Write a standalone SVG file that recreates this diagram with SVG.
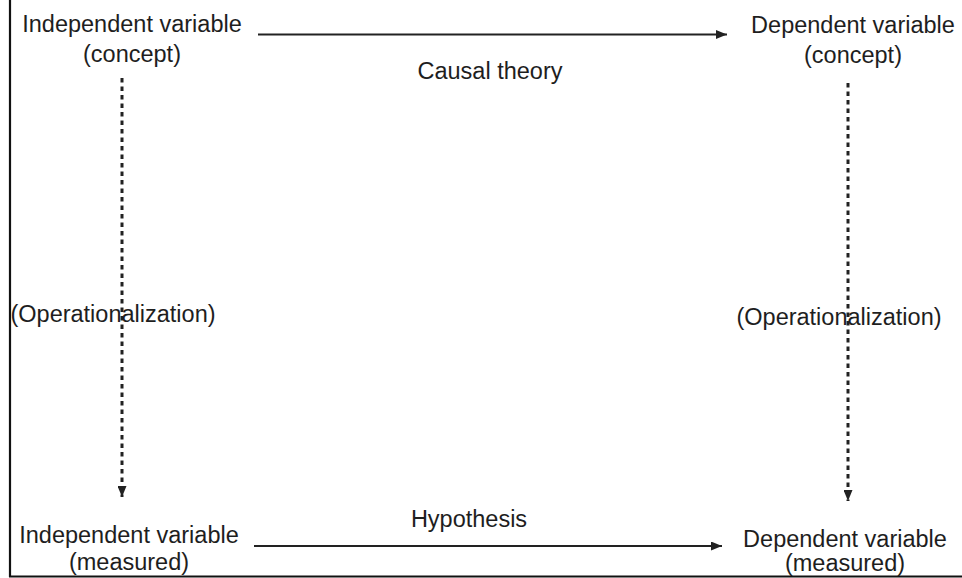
<svg xmlns="http://www.w3.org/2000/svg" width="962" height="578" viewBox="0 0 962 578">
<style>
text{font-family:"Liberation Sans",Arial,sans-serif;font-size:23.5px;fill:#1e1e1e;text-anchor:middle}
.solid{stroke:#222;stroke-width:1.8;fill:none}
.dash{stroke:#222;stroke-width:3;fill:none;stroke-dasharray:4.5 4}
</style>
<defs>
<marker id="ah" viewBox="0 0 11 9" refX="11" refY="4.5" markerWidth="11" markerHeight="9" markerUnits="userSpaceOnUse" orient="auto">
<path d="M0,0 L11,4.5 L0,9 Z" fill="#222"/>
</marker>
<marker id="ahd" viewBox="0 0 9 11" refX="4.5" refY="11" markerWidth="9" markerHeight="11" markerUnits="userSpaceOnUse" orient="0">
<path d="M0,0 L9,0 L4.5,11 Z" fill="#222"/>
</marker>
</defs>
<rect width="962" height="578" fill="#fff"/>
<g id="frame" stroke="#111" stroke-width="2.2" fill="none">
<line x1="10" y1="0" x2="10" y2="577"/>
<line x1="9" y1="576.5" x2="962" y2="576.5"/>
</g>
<g id="connectors">
<line class="solid" x1="258" y1="34.5" x2="727" y2="34.5" marker-end="url(#ah)"/>
<line class="solid" x1="254" y1="546" x2="722" y2="546" marker-end="url(#ah)"/>
<line class="dash" x1="122" y1="78" x2="122" y2="497" marker-end="url(#ahd)"/>
<line class="dash" x1="848" y1="83" x2="848" y2="501" marker-end="url(#ahd)"/>
<text x="490" y="79">Causal theory</text>
<text x="469" y="527">Hypothesis</text>
<text x="113" y="322">(Operationalization)</text>
<text x="839" y="325">(Operationalization)</text>
</g>
<g id="iv-concept">
<text x="132" y="32">Independent variable</text>
<text x="132" y="62">(concept)</text>
</g>
<g id="dv-concept">
<text x="853" y="33">Dependent variable</text>
<text x="853" y="63">(concept)</text>
</g>
<g id="iv-measured">
<text x="129" y="543">Independent variable</text>
<text x="129" y="570">(measured)</text>
</g>
<g id="dv-measured">
<text x="845" y="547">Dependent variable</text>
<text x="845" y="571">(measured)</text>
</g>
</svg>
